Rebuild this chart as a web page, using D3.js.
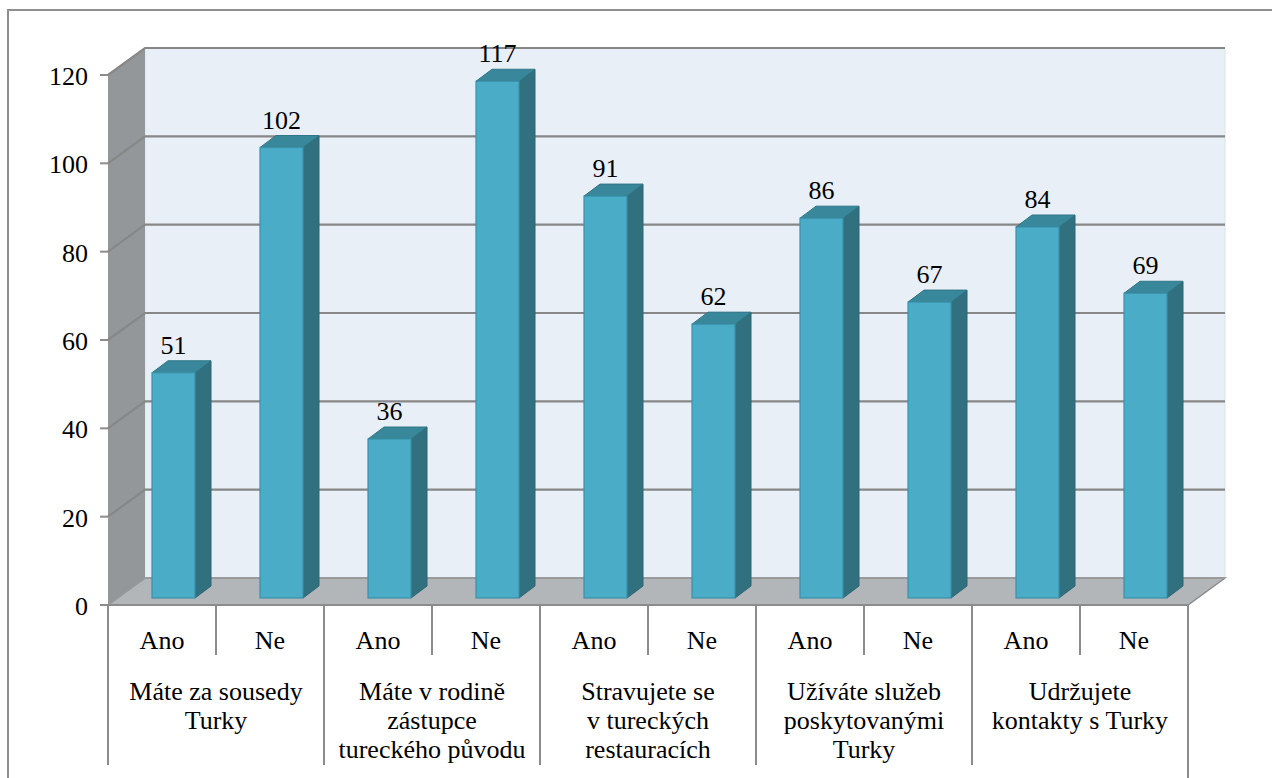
<!DOCTYPE html>
<html>
<head>
<meta charset="utf-8">
<script src="https://cdn.jsdelivr.net/npm/d3@7/dist/d3.min.js"></script>
</head>
<body style="margin:0">
<svg id="chart" width="1272" height="778"></svg>
<script>
// Survey answers (Ano / Ne) for five questions about contact with Turks
const groups = [
  ["Máte za sousedy", "Turky"],
  ["Máte v rodině", "zástupce", "tureckého původu"],
  ["Stravujete se", "v tureckých", "restauracích"],
  ["Užíváte služeb", "poskytovanými", "Turky"],
  ["Udržujete", "kontakty s Turky"]
];
const answers = ["Ano", "Ne"];
const anoValues = [51, 36, 91, 86, 84];
const neValues = [102, 117, 62, 67, 69];
const yTicks = [0, 20, 40, 60, 80, 100, 120];

const items = [];
groups.forEach((g, gi) => {
  items.push({ group: gi, answer: answers[0], value: anoValues[gi], key: gi + "-0" });
  items.push({ group: gi, answer: answers[1], value: neValues[gi], key: gi + "-1" });
});

const svg = d3.select("#chart");

// 3D box geometry: front plane and depth offset of the back wall
const plotLeft = 108, plotRight = 1188;
const depthX = 37, depthY = -27;
const yFront = d3.scaleLinear().domain([0, 120]).range([605, 75]);
const yBar = d3.scaleLinear().domain([0, 120]).range([598, 68]);
const x = d3.scaleBand().domain(items.map(d => d.key)).range([plotLeft, plotRight]).padding(0);

const barW = 43, barDX = 16, barDY = -12, barShift = 11.5;
const gridColor = "#878787";

function label(sel) {
  return sel.append("text")
    .style("font-family", "'Liberation Serif'")
    .attr("font-size", 26)
    .attr("fill", "#000");
}

// outer chart frame (partly outside the visible area)
svg.append("rect")
  .attr("x", 8).attr("y", 10).attr("width", 1300).attr("height", 800)
  .attr("fill", "none").attr("stroke", "#8e8e8e").attr("stroke-width", 2);

const y0 = yFront(0), yTop = yFront(120);

// back wall
svg.append("polygon")
  .attr("points", [[plotLeft + depthX, yTop + depthY], [plotRight + depthX, yTop + depthY],
                   [plotRight + depthX, y0 + depthY], [plotLeft + depthX, y0 + depthY]].join(" "))
  .attr("fill", "#e9eff6").attr("stroke", "#dde3ea").attr("stroke-width", 1);

// side wall
svg.append("polygon")
  .attr("points", [[plotLeft, yTop], [plotLeft + depthX, yTop + depthY],
                   [plotLeft + depthX, y0 + depthY], [plotLeft, y0]].join(" "))
  .attr("fill", "#949799");

// floor
svg.append("polygon")
  .attr("points", [[plotLeft, y0], [plotRight, y0],
                   [plotRight + depthX, y0 + depthY], [plotLeft + depthX, y0 + depthY]].join(" "))
  .attr("fill", "#b3b6b9").attr("stroke", "#8c8c8c").attr("stroke-width", 1.5);

// gridlines on the back wall and the side wall
const grid = svg.append("g");
yTicks.forEach(t => {
  const yf = yFront(t);
  grid.append("polyline")
    .attr("points", [[plotLeft, yf], [plotLeft + depthX, yf + depthY], [plotRight + depthX, yf + depthY]].join(" "))
    .attr("fill", "none").attr("stroke", t === 0 ? "#9a9a9a" : gridColor)
    .attr("stroke-width", t === 0 ? 1.5 : 2.2);
});

// value axis ticks and labels
yTicks.forEach(t => {
  svg.append("line")
    .attr("x1", plotLeft - 8).attr("x2", plotLeft)
    .attr("y1", yFront(t)).attr("y2", yFront(t))
    .attr("stroke", "#8c8c8c").attr("stroke-width", 2);
  label(svg)
    .attr("x", 88).attr("y", yFront(t) + 10)
    .attr("text-anchor", "end")
    .text(t);
});

// bars drawn as prisms
items.forEach(d => {
  const cx = x(d.key) + x.bandwidth() / 2 + barShift;
  const x0 = cx - barW / 2, x1 = cx + barW / 2;
  const yt = yBar(d.value), yb = yBar(0);
  svg.append("polygon")
    .attr("points", [[x1, yt], [x1 + barDX, yt + barDY], [x1 + barDX, yb + barDY], [x1, yb]].join(" "))
    .attr("fill", "#31707f").attr("stroke", "#2b6675").attr("stroke-width", 1);
  svg.append("polygon")
    .attr("points", [[x0, yt], [x1, yt], [x1 + barDX, yt + barDY], [x0 + barDX, yt + barDY]].join(" "))
    .attr("fill", "#38879a").attr("stroke", "#2f7687").attr("stroke-width", 1);
  svg.append("rect")
    .attr("x", x0).attr("y", yt).attr("width", barW).attr("height", yb - yt)
    .attr("fill", "#4aacc7").attr("stroke", "#3a91a8").attr("stroke-width", 1.2);
  label(svg)
    .attr("x", cx).attr("y", yt - 19)
    .attr("text-anchor", "middle")
    .text(d.value);
});

// category axis: line, dividers and two-level labels
svg.append("line")
  .attr("x1", plotLeft - 8).attr("x2", plotRight)
  .attr("y1", y0).attr("y2", y0)
  .attr("stroke", "#8c8c8c").attr("stroke-width", 2);
items.forEach((d, i) => {
  const xs = x(d.key);
  svg.append("line")
    .attr("x1", xs).attr("x2", xs)
    .attr("y1", y0).attr("y2", i % 2 === 0 ? 765 : 655)
    .attr("stroke", "#8c8c8c").attr("stroke-width", 2);
  label(svg)
    .attr("x", xs + x.bandwidth() / 2).attr("y", 649)
    .attr("text-anchor", "middle")
    .text(d.answer);
});
svg.append("line")
  .attr("x1", plotRight).attr("x2", plotRight)
  .attr("y1", y0).attr("y2", 778)
  .attr("stroke", "#8c8c8c").attr("stroke-width", 2);

groups.forEach((lines, gi) => {
  const cx = x(gi + "-0") + x.bandwidth();
  lines.forEach((ln, li) => {
    label(svg)
      .attr("x", cx).attr("y", 700 + li * 29)
      .attr("text-anchor", "middle")
      .text(ln);
  });
});
</script>
</body>
</html>
